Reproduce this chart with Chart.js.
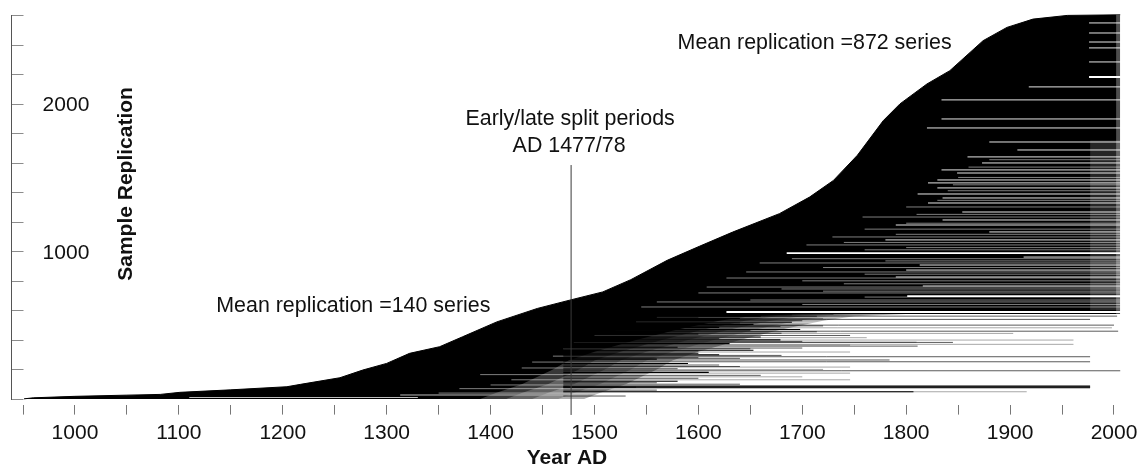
<!DOCTYPE html>
<html>
<head>
<meta charset="utf-8">
<title>Sample Replication</title>
<script src="https://cdn.jsdelivr.net/npm/chart.js@4.4.0/dist/chart.umd.min.js"></script>
<style>
  html, body { margin: 0; padding: 0; background: #fff; }
  #wrap { width: 1144px; height: 470px; }
</style>
</head>
<body>
<div id="wrap"><canvas id="replicationChart" width="1144" height="470"></canvas></div>
<script>
// number of series that have started by each year (stacked by first year)
var startYears  = [951, 960, 1000, 1050, 1082, 1101, 1150, 1204, 1217, 1255, 1277, 1300, 1322, 1351, 1373, 1406, 1445, 1476, 1508, 1535, 1570, 1601, 1633, 1678, 1707, 1730, 1753, 1778, 1794, 1820, 1842, 1874, 1897, 1922, 1955, 2006];
var seriesCount = [1, 8, 18, 26, 31, 45, 62, 83, 99, 144, 196, 241, 309, 354, 421, 522, 613, 669, 725, 808, 939, 1034, 1130, 1255, 1367, 1480, 1650, 1885, 1998, 2133, 2223, 2426, 2516, 2572, 2597, 2601];

// series (row in the stack) that end early, and the year they stop
var gapRows  = [2546, 2478, 2417, 2377, 2282, 2113, 2025, 1896, 1835, 1740, 1686, 1639, 1598, 1551, 1530, 1483, 1463, 1429, 1388, 1361, 1327, 1266, 1212, 1178, 1131, 1077, 961, 907, 873, 826, 765];
var gapYears = [1976, 1976, 1976, 1976, 1976, 1918, 1834, 1834, 1820, 1880, 1907, 1859, 1873, 1834, 1849, 1830, 1821, 1830, 1811, 1835, 1821, 1854, 1835, 1790, 1880, 1780, 1913, 1813, 1800, 1790, 1816];
var wideGapRows  = [2180, 988, 697, 589];
var wideGapYears = [1976, 1685, 1801, 1627];
var faintGapRows  = [1232, 1097, 1043, 921, 860, 819, 758, 718, 657, 623, 640, 670, 690, 730, 745, 780, 800, 845, 890, 935, 950, 1010, 1025, 1060, 1115, 1150, 1190, 1250, 1300, 1345, 1410, 1450, 1500, 1570, 1620,
                     40, 70, 95, 130, 165, 210, 250, 290, 340, 380, 430, 470, 520, 555];
var faintGapYears = [1758, 1729, 1704, 1659, 1646, 1627, 1608, 1600, 1560, 1545, 1700, 1650, 1760, 1720, 1680, 1740, 1700, 1760, 1720, 1780, 1690, 1760, 1800, 1740, 1790, 1760, 1800, 1810, 1800, 1830, 1840, 1845, 1850, 1860, 1880,
                     1350, 1370, 1400, 1420, 1390, 1430, 1440, 1460, 1470, 1480, 1500, 1520, 1540, 1560];

// lower rows: the stack thins out step by step, then is mostly empty
var clearRows  = [0, 40, 100, 200, 260, 320, 400, 470, 530, 560, 575, 575];
var fadeYears4 = [1390, 1405, 1430, 1460, 1475, 1500, 1540, 1580, 1620, 1650, 1700, 2008];
var fadeYears3 = [1415, 1430, 1455, 1485, 1500, 1525, 1565, 1605, 1645, 1675, 1725, 2008];
var fadeYears2 = [1440, 1455, 1480, 1510, 1525, 1550, 1590, 1630, 1670, 1700, 1750, 2008];
var fadeYears1 = [1465, 1480, 1505, 1535, 1550, 1575, 1615, 1655, 1695, 1725, 1775, 2008];
var clearYears = [1490, 1505, 1530, 1560, 1575, 1600, 1640, 1680, 1720, 1750, 1800, 2008];

// long series that survive in the lower rows (row, last year)
var lowerFrom = 1470;
var darkRows  = [76, 82, 88, 49, 505, 470, 400, 330, 300, 240, 180, 120,
                 560, 545, 520, 485, 440, 420, 375, 350, 310, 270];
var darkEnds  = [1977, 1977, 1977, 1807, 1653, 1698, 1679, 1653, 1620, 1590, 1610, 1580,
                 1660, 1640, 1690, 1620, 1600, 1660, 1630, 1580, 1600, 1560];
var midRows   = [561, 539, 500, 459, 383, 358, 286, 252, 191, 575, 560, 530, 490, 455, 430, 345, 264, 280, 220, 160, 100, 60, 20,
                 570, 550, 515, 495, 465, 445, 410, 390, 340, 325, 295, 275, 230, 205, 140, 110, 80];
var midEnds   = [2003, 1977, 2000, 2004, 1845, 1811, 1977, 1977, 2006, 1730, 1714, 1700, 1679, 1714, 1746, 1700, 1784, 1600, 1640, 1660, 1640, 1560, 1530,
                 1690, 1600, 1640, 1720, 1650, 1680, 1620, 1700, 1650, 1600, 1680, 1640, 1620, 1580, 1600, 1560, 1540];
var lightRows = [482, 444, 399, 370, 49, 545, 415, 385, 365, 318, 216, 200, 175, 150, 130];
var lightEnds = [1998, 1903, 1961, 1961, 1916, 1720, 1762, 1810, 1746, 1746, 1746, 1720, 1746, 1700, 1746];

// short pale streaks among the earliest series
var streakRows = [10, 27];
var streakFrom = [1110, 1313];
var streakTo   = [1330, 1494];

// early/late split
var splitYear = 1477.5;
var splitSpan = [-108, 1584];

var xTickValues = [950, 1000, 1050, 1100, 1150, 1200, 1250, 1300, 1350, 1400, 1450, 1500, 1550, 1600, 1650, 1700, 1750, 1800, 1850, 1900, 1950, 2000];
var yTickValues = [0, 200, 400, 600, 800, 1000, 1200, 1400, 1600, 1800, 2000, 2200, 2400, 2600];

var lastYear = 2008;
var fontName = '"Liberation Sans", Arial, Helvetica, sans-serif';

function pairs(xs, ys) {
    return xs.map(function (x, i) { return { x: x, y: ys[i] }; });
}

function area(xs, ys, colour, order, fill) {
    return {
        data: pairs(xs, ys),
        borderColor: 'rgba(0,0,0,0)',
        borderWidth: 0,
        backgroundColor: colour,
        fill: fill || 'origin',
        order: order
    };
}

// one thin horizontal segment per series row
function rowLines(rows, froms, tos, colour, width, order) {
    return rows.map(function (r, i) {
        var a = Array.isArray(froms) ? froms[i] : froms;
        var b = Array.isArray(tos) ? tos[i] : tos;
        return {
            data: [{ x: a, y: r }, { x: b, y: r }],
            borderColor: colour,
            borderWidth: width,
            fill: false,
            order: order
        };
    });
}

var datasets = [];
// the full stack of series
datasets.push({
    data: pairs(startYears, seriesCount),
    borderColor: '#000',
    borderWidth: 1,
    backgroundColor: '#000',
    fill: 'origin',
    order: 100
});
// thinning of the lower rows
datasets.push(area(fadeYears4, clearRows, 'rgba(255,255,255,0.22)', 97));
datasets.push(area(fadeYears3, clearRows, 'rgba(255,255,255,0.22)', 96));
datasets.push(area(fadeYears2, clearRows, 'rgba(255,255,255,0.25)', 95));
datasets.push(area(fadeYears1, clearRows, 'rgba(255,255,255,0.3)', 94));
datasets.push(area(clearYears, clearRows, '#fff', 93));
// series ending in the late 1970s and at the jagged end
datasets.push(area([1977, lastYear], [1750, 1750], 'rgba(255,255,255,0.15)', 92, { value: 600 }));
datasets.push(area([2002, lastYear], [2601, 2601], 'rgba(255,255,255,0.3)', 91));

// thin black lines vanish on the black stack and show grey on the empty part
datasets = datasets
    .concat(rowLines(faintGapRows, faintGapYears, lastYear, '#fff', 0.5, 80))
    .concat(rowLines(gapRows, gapYears, lastYear, '#fff', 0.9, 79))
    .concat(rowLines(wideGapRows, wideGapYears, lastYear, '#fff', 1.8, 78))
    .concat(rowLines(streakRows, streakFrom, streakTo, '#bdbdbd', 1, 77))
    .concat(rowLines(lightRows, lowerFrom, lightEnds, '#000', 0.35, 76))
    .concat(rowLines(midRows, lowerFrom, midEnds, '#000', 0.65, 75))
    .concat(rowLines(darkRows, lowerFrom, darkEnds, '#000', 1.1, 74));

// split line between the early and late periods
datasets.push({
    data: [{ x: splitYear, y: splitSpan[0] }, { x: splitYear, y: splitSpan[1] }],
    borderColor: '#3a3a3a',
    borderWidth: 1,
    fill: false,
    clip: false,
    order: 0
});

// y axis line, inward ticks and the free text
var decorPlugin = {
    id: 'decor',
    afterDraw: function (chart) {
        var ctx = chart.ctx;
        var xs = chart.scales.x;
        var ys = chart.scales.y;
        var left = Math.floor(chart.chartArea.left) + 0.5;
        ctx.save();
        ctx.lineWidth = 1;
        ctx.strokeStyle = '#8c8c8c';
        yTickValues.forEach(function (v) {
            var py = Math.round(ys.getPixelForValue(v)) + 0.5;
            ctx.beginPath();
            ctx.moveTo(left, py);
            ctx.lineTo(left + 12, py);
            ctx.stroke();
        });
        ctx.strokeStyle = '#555';
        ctx.beginPath();
        ctx.moveTo(left, Math.round(ys.getPixelForValue(2600)));
        ctx.lineTo(left, Math.round(ys.getPixelForValue(0)) + 1);
        ctx.stroke();

        ctx.fillStyle = '#111';
        ctx.font = '21.4px ' + fontName;
        ctx.textBaseline = 'alphabetic';
        ctx.textAlign = 'left';
        ctx.fillText('Mean replication =872 series', xs.getPixelForValue(1580), ys.getPixelForValue(2370));
        ctx.fillText('Mean replication =140 series', xs.getPixelForValue(1136), ys.getPixelForValue(590));
        ctx.textAlign = 'center';
        ctx.fillText('Early/late split periods', xs.getPixelForValue(splitYear) - 1, ys.getPixelForValue(1855));
        ctx.fillText('AD 1477/78', xs.getPixelForValue(splitYear) - 2, ys.getPixelForValue(1672));

        ctx.font = 'bold 21px ' + fontName;
        ctx.translate(xs.getPixelForValue(1055), ys.getPixelForValue(1456));
        ctx.rotate(-Math.PI / 2);
        ctx.fillText('Sample Replication', 0, 0);
        ctx.restore();
    }
};

var ctx = document.getElementById('replicationChart').getContext('2d');
var replicationChart = new Chart(ctx, {
    type: 'line',
    data: { datasets: datasets },
    plugins: [decorPlugin],
    options: {
        responsive: false,
        animation: false,
        devicePixelRatio: 1,
        events: [],
        layout: { padding: { left: 11.6, right: 21.7, top: 13.5, bottom: 0 } },
        elements: {
            point: { radius: 0 },
            line: { tension: 0, borderCapStyle: 'butt' }
        },
        plugins: {
            legend: { display: false },
            tooltip: { enabled: false }
        },
        scales: {
            x: {
                type: 'linear',
                bounds: 'data',
                min: 939,
                max: lastYear,
                afterBuildTicks: function (scale) {
                    scale.ticks = xTickValues.map(function (v) { return { value: v }; });
                },
                afterFit: function (scale) {
                    scale.height = 65.4;
                },
                grid: { display: true, drawOnChartArea: false, drawTicks: true, tickLength: 10, color: '#777', lineWidth: 1 },
                border: { display: false },
                ticks: {
                    autoSkip: false,
                    maxRotation: 0,
                    padding: 6,
                    color: '#111',
                    font: { family: fontName, size: 21 },
                    callback: function (v) { return v % 100 === 0 ? String(v) : ''; }
                },
                title: {
                    display: true,
                    text: 'Year AD',
                    color: '#111',
                    padding: { top: 0, bottom: -1 },
                    font: { family: fontName, size: 21, weight: 'bold' }
                }
            },
            y: {
                type: 'linear',
                bounds: 'data',
                min: -38,
                max: 2610,
                afterBuildTicks: function (scale) {
                    scale.ticks = yTickValues.map(function (v) { return { value: v }; });
                },
                // labels sit inside the plot, so the axis takes no room
                afterFit: function (scale) {
                    scale.width = 0;
                    scale.paddingTop = 0;
                    scale.paddingBottom = 0;
                },
                grid: { display: false, drawTicks: false },
                border: { display: false },
                ticks: {
                    mirror: true,
                    padding: 31,
                    labelOffset: 2,
                    autoSkip: false,
                    color: '#111',
                    font: { family: fontName, size: 21 },
                    callback: function (v) { return (v === 1000 || v === 2000) ? String(v) : ''; }
                }
            }
        }
    }
});
</script>
</body>
</html>
